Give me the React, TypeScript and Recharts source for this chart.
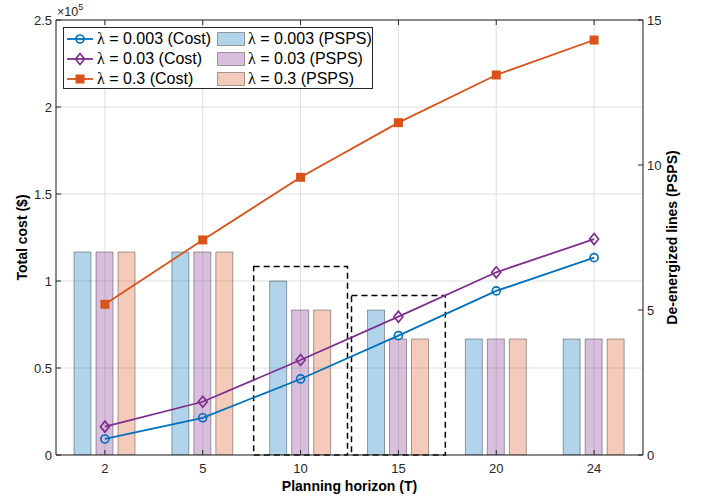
import React from 'react';
import {
  ComposedChart, Bar, Line, XAxis, YAxis, CartesianGrid, Legend, ReferenceArea, ReferenceLine,
} from 'recharts';

// ---- data ----
const horizons = ['2', '5', '10', '15', '20', '24'];
const costLam0003 = [9200, 21400, 43700, 68600, 94300, 113400];
const costLam003 = [16300, 30600, 54600, 79500, 105000, 124100];
const costLam03 = [86600, 123600, 159600, 191000, 218400, 238500];
const pspsLam0003 = [7, 7, 6, 5, 4, 4];
const pspsLam003 = [7, 7, 5, 4, 4, 4];
const pspsLam03 = [7, 7, 5, 4, 4, 4];
const leftTicks = [0, 50000, 100000, 150000, 200000, 250000];
const rightTicks = [0, 5, 10, 15];
const dashedBoxCats = ['10', '15'];
const dashedBoxTops = [6.5, 5.5];

const lamLabels = ['0.003', '0.03', '0.3'];
const colors = ['#0072BD', '#7E2F8E', '#D95319'];
const markers = ['circle', 'diamond', 'square'];

const data = horizons.map((T, i) => ({
  T,
  c1: costLam0003[i],
  c2: costLam003[i],
  c3: costLam03[i],
  p1: pspsLam0003[i],
  p2: pspsLam003[i],
  p3: pspsLam03[i],
}));

const FONT = '"Liberation Sans", Arial, Helvetica, sans-serif';
const AXIS = '#262626';
const PLOT_TOP = 20;

const Marker = ({ kind, cx, cy, color }: any) => {
  if (cx == null || cy == null) return null;
  if (kind === 'circle') {
    return <circle cx={cx} cy={cy} r={4} fill="none" stroke={color} strokeWidth={1.7} />;
  }
  if (kind === 'diamond') {
    return (
      <polygon
        points={`${cx},${cy - 5.5} ${cx + 4.5},${cy} ${cx},${cy + 5.5} ${cx - 4.5},${cy}`}
        fill="none"
        stroke={color}
        strokeWidth={1.7}
      />
    );
  }
  return <rect x={cx - 4.5} y={cy - 4.5} width={9} height={9} fill={color} />;
};

const Lam = () => <span style={{ fontFamily: '"Liberation Serif", "DejaVu Serif", serif' }}>λ</span>;

const LegendBox = () => {
  const rows = [0, 1, 2];
  return (
    <div
      style={{
        width: 308,
        height: 60,
        border: `1px solid ${AXIS}`,
        background: '#fff',
        position: 'relative',
        fontFamily: FONT,
        fontSize: 16,
        color: '#000',
      }}
    >
      {rows.map((i) => (
        <React.Fragment key={i}>
          <div style={{ position: 'absolute', left: 3, top: 11 + i * 20 - 9, height: 18, display: 'flex', alignItems: 'center', whiteSpace: 'nowrap' }}>
            <svg width={26} height={14} style={{ display: 'block' }}>
              <line x1={0} y1={7} x2={26} y2={7} stroke={colors[i]} strokeWidth={1.8} />
              <Marker kind={markers[i]} cx={13} cy={7} color={colors[i]} />
            </svg>
            <span style={{ marginLeft: 4, lineHeight: '18px' }}>
              <Lam /> = {lamLabels[i]} (Cost)
            </span>
          </div>
          <div style={{ position: 'absolute', left: 153, top: 11 + i * 20 - 9, height: 18, display: 'flex', alignItems: 'center', whiteSpace: 'nowrap' }}>
            <svg width={28} height={14} style={{ display: 'block' }}>
              <rect x={0.5} y={0.5} width={27} height={13} fill={colors[i]} fillOpacity={0.3} stroke="#000" strokeOpacity={0.35} />
            </svg>
            <span style={{ marginLeft: 3, lineHeight: '18px' }}>
              <Lam /> = {lamLabels[i]} (PSPS)
            </span>
          </div>
        </React.Fragment>
      ))}
    </div>
  );
};

const BottomTick = ({ x, y, payload }: any) => (
  <g>
    <line x1={x} y1={y} x2={x} y2={y - 5} stroke={AXIS} />
    <line x1={x} y1={PLOT_TOP} x2={x} y2={PLOT_TOP + 5} stroke={AXIS} />
    <text x={x} y={y + 18} textAnchor="middle" fontSize={13} fill={AXIS} fontFamily={FONT}>
      {payload.value}
    </text>
  </g>
);

const LeftTick = ({ x, y, payload }: any) => (
  <g>
    <line x1={x} y1={y} x2={x + 5} y2={y} stroke={AXIS} />
    <text x={x - 4} y={y + 4.5} textAnchor="end" fontSize={13} fill={AXIS} fontFamily={FONT}>
      {String(payload.value / 100000)}
    </text>
  </g>
);

const RightTick = ({ x, y, payload }: any) => (
  <g>
    <line x1={x} y1={y} x2={x - 5} y2={y} stroke={AXIS} />
    <text x={x + 4} y={y + 4.5} textAnchor="start" fontSize={13} fill={AXIS} fontFamily={FONT}>
      {payload.value}
    </text>
  </g>
);

const LeftLabel = ({ viewBox }: any) => {
  const cx = viewBox.x + 21.5;
  const cy = viewBox.y + viewBox.height / 2;
  return (
    <g>
      <text
        x={cx}
        y={cy}
        transform={`rotate(-90 ${cx} ${cy})`}
        textAnchor="middle"
        dominantBaseline="central"
        fontSize={14}
        fontWeight="bold"
        fill="#000"
        fontFamily={FONT}
      >
        Total cost ($)
      </text>
      <text x={viewBox.x + viewBox.width + 1} y={viewBox.y - 4} fontSize={12.5} fill={AXIS} fontFamily={FONT}>
        ×10<tspan dy={-6} fontSize={9}>5</tspan>
      </text>
    </g>
  );
};

const RightLabel = ({ viewBox }: any) => {
  const cx = viewBox.x + 29;
  const cy = viewBox.y + viewBox.height / 2;
  return (
    <text
      x={cx}
      y={cy}
      transform={`rotate(-90 ${cx} ${cy})`}
      textAnchor="middle"
      dominantBaseline="central"
      fontSize={14}
      fontWeight="bold"
      fill="#000"
      fontFamily={FONT}
    >
      De-energized lines (PSPS)
    </text>
  );
};

const BottomLabel = ({ viewBox }: any) => (
  <text
    x={viewBox.x + viewBox.width / 2}
    y={viewBox.y + 36}
    textAnchor="middle"
    fontSize={14}
    fontWeight="bold"
    fill="#000"
    fontFamily={FONT}
  >
    Planning horizon (T)
  </text>
);

const DashedBox = (p: any) => (
  <rect
    x={p.x + 2}
    y={p.y}
    width={Math.max(0, p.width - 4)}
    height={p.height}
    fill="none"
    stroke="#000"
    strokeWidth={1.5}
    strokeDasharray="6 4"
  />
);

export default function App() {
  const costKeys = ['c1', 'c2', 'c3'];
  const pspsKeys = ['p1', 'p2', 'p3'];
  return (
    <div style={{ position: 'absolute', left: 0, top: 0, width: 704, height: 499, background: '#fff' }}>
      <ComposedChart
        width={704}
        height={499}
        data={data}
        margin={{ top: PLOT_TOP, right: 0, bottom: 0, left: 0 }}
        barGap={5}
        style={{ fontFamily: FONT }}
      >
        <CartesianGrid yAxisId="left" stroke="#dedede" strokeWidth={1} />
        <XAxis
          dataKey="T"
          type="category"
          height={44}
          interval={0}
          tickLine={false}
          tickSize={0}
          tickMargin={0}
          axisLine={{ stroke: AXIS }}
          tick={<BottomTick />}
          label={{ content: BottomLabel }}
        />
        <YAxis
          yAxisId="left"
          orientation="left"
          width={56}
          domain={[0, 250000]}
          ticks={leftTicks}
          type="number"
          allowDataOverflow
          tickLine={false}
          tickSize={0}
          tickMargin={0}
          axisLine={{ stroke: AXIS }}
          tick={<LeftTick />}
          label={{ content: LeftLabel }}
        />
        <YAxis
          yAxisId="right"
          orientation="right"
          width={61}
          domain={[0, 15]}
          ticks={rightTicks}
          type="number"
          allowDataOverflow
          tickLine={false}
          tickSize={0}
          tickMargin={0}
          axisLine={{ stroke: AXIS }}
          tick={<RightTick />}
          label={{ content: RightLabel }}
        />
        {pspsKeys.map((k, i) => (
          <Bar
            key={k}
            yAxisId="right"
            dataKey={k}
            barSize={17}
            fill={colors[i]}
            fillOpacity={0.3}
            stroke="#000"
            strokeOpacity={0.35}
            strokeWidth={1}
            isAnimationActive={false}
          />
        ))}
        {dashedBoxCats.map((c, i) => (
          <ReferenceArea
            key={c}
            yAxisId="right"
            x1={c}
            x2={c}
            y1={0}
            y2={dashedBoxTops[i]}
            shape={DashedBox}
          />
        ))}
        {costKeys.map((k, i) => (
          <Line
            key={k}
            yAxisId="left"
            type="linear"
            dataKey={k}
            stroke={colors[i]}
            strokeWidth={1.8}
            dot={(props: any) => <Marker key={`${k}-${props.index}`} kind={markers[i]} cx={props.cx} cy={props.cy} color={colors[i]} />}
            activeDot={false}
            isAnimationActive={false}
          />
        ))}
        <ReferenceLine yAxisId="left" y={250000} stroke={AXIS} />
        <Legend
          layout="vertical"
          align="center"
          verticalAlign="middle"
          content={<LegendBox />}
          wrapperStyle={{ left: 63, top: 27, width: 310, height: 62 }}
        />
      </ComposedChart>
    </div>
  );
}
